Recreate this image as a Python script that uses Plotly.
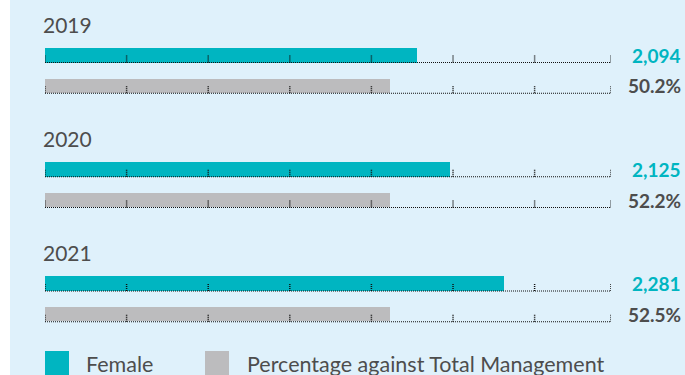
import plotly.graph_objects as go

# data
years = ['2019', '2020', '2021']
female_labels = ['2,094', '2,125', '2,281']
pct_labels = ['50.2%', '52.2%', '52.5%']
# bar lengths as drawn in the source (track units, one unit per tick step);
# the source bars are not drawn to scale with their labels
female_bar = [4.555, 4.963, 5.625]
pct_bar = [4.228, 4.228, 4.228]
track_ticks = [0, 1, 2, 3, 4, 5, 6, 6.936]
series_names = ['Female', 'Percentage against Total Management']

TEAL = '#00b5c1'
GREY = '#bcbcbe'
TXT = '#4d4d4d'
BG = '#dff1fb'
FONT = 'Lato'

W, H = 685, 375
L, R = 45, 74
PW = W - L - R
UNIT = 114.25          # px per year block
TOP = 55.0             # px centre of first teal bar

def px_x(px):
    return (px - L) / PW

def px_y(py):
    return 1 - py / H

def px_dy(p):
    return p / UNIT

female_y = [i for i in range(len(years))]
pct_y = [i + px_dy(30.75) for i in range(len(years))]

fig = go.Figure()
fig.add_trace(go.Bar(y=female_y, x=female_bar, orientation='h', width=px_dy(15),
                     marker=dict(color=TEAL, line=dict(width=0)), name=series_names[0],
                     showlegend=False, hoverinfo='skip'))
fig.add_trace(go.Bar(y=pct_y, x=pct_bar, orientation='h', width=px_dy(14),
                     marker=dict(color=GREY, line=dict(width=0)), name=series_names[1],
                     showlegend=False, hoverinfo='skip'))

dotted = dict(color='#111111', width=1, dash='1px,1px')
tick_line = dict(color='#111111', width=1.5, dash='1px,1px')
shapes = []
# white strip on the far left
shapes.append(dict(type='rect', xref='paper', yref='paper', x0=px_x(0), x1=px_x(10),
                   y0=0, y1=1, fillcolor='white', line=dict(width=0), layer='below'))
for rows, half in ((female_y, 7.5), (pct_y, 7.5)):
    for yc in rows:
        yb = yc + px_dy(half)
        shapes.append(dict(type='line', xref='x', yref='y', x0=track_ticks[0], x1=track_ticks[-1],
                           y0=yb, y1=yb, line=dotted))
        for t in track_ticks:
            shapes.append(dict(type='line', xref='x', yref='y', x0=t, x1=t,
                               y0=yb, y1=yb - px_dy(8), line=tick_line))

annotations = []
for i, yr in enumerate(years):
    annotations.append(dict(x=px_x(41), xref='paper', y=female_y[i] - px_dy(31), yref='y',
                            text=yr, showarrow=False, xanchor='left', yanchor='middle',
                            font=dict(family=FONT, size=21, color=TXT)))
    annotations.append(dict(x=px_x(683), xref='paper', y=female_y[i], yref='y',
                            text=female_labels[i], showarrow=False, xanchor='right', yanchor='middle',
                            font=dict(family=FONT, size=19, color=TEAL, weight='bold')))
    annotations.append(dict(x=px_x(683), xref='paper', y=pct_y[i], yref='y',
                            text=pct_labels[i], showarrow=False, xanchor='right', yanchor='middle',
                            font=dict(family=FONT, size=19, color=TXT, weight='bold')))

# legend drawn by hand
for name, col, sx, tx in ((series_names[0], TEAL, 45, 84), (series_names[1], GREY, 205, 245)):
    shapes.append(dict(type='rect', xref='paper', yref='paper', x0=px_x(sx), x1=px_x(sx + 24),
                       y0=px_y(375), y1=px_y(351), fillcolor=col, line=dict(width=0)))
    annotations.append(dict(x=px_x(tx), xref='paper', y=px_y(364), yref='paper', text=name,
                            showarrow=False, xanchor='left', yanchor='middle',
                            font=dict(family=FONT, size=21.5, color=TXT)))

fig.update_layout(
    width=W, height=H,
    margin=dict(l=L, r=R, t=0, b=0, pad=0),
    paper_bgcolor=BG, plot_bgcolor=BG,
    barmode='overlay', bargap=0,
    xaxis=dict(range=[0, track_ticks[-1]], visible=False, fixedrange=True),
    yaxis=dict(range=[(H - TOP) / UNIT, -TOP / UNIT], visible=False, fixedrange=True),
    shapes=shapes, annotations=annotations,
    showlegend=False,
)

fig.write_html("out.html", config={'displayModeBar': False},
               post_script="document.body.style.margin='0';document.body.style.overflow='hidden';")
